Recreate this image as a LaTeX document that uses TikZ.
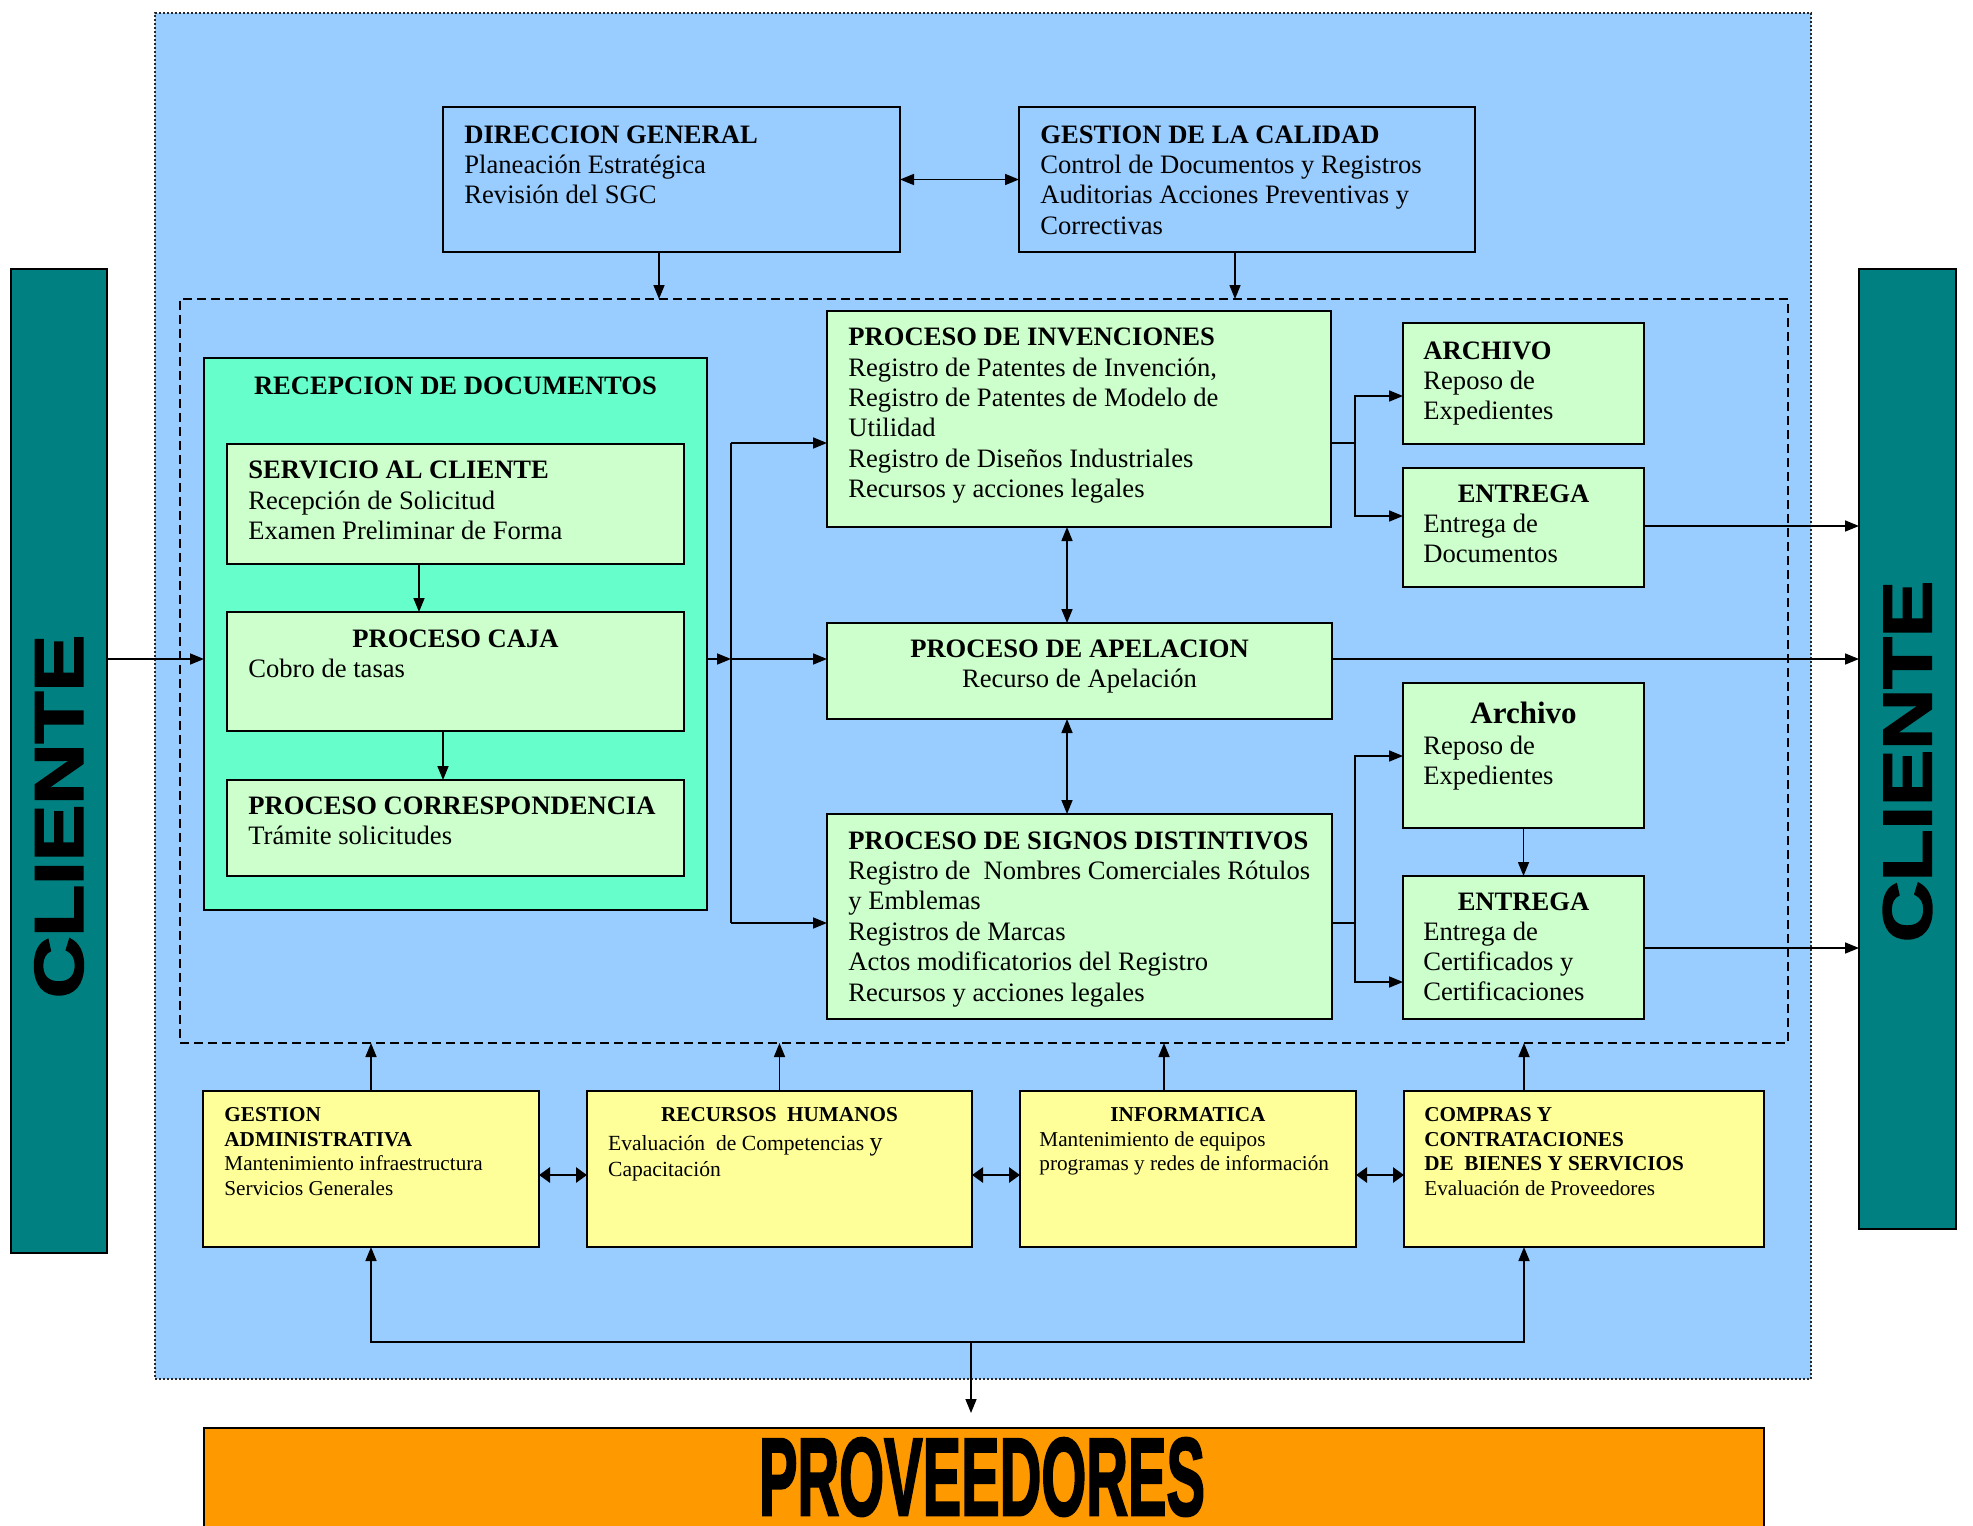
\documentclass[tikz,border=0pt]{standalone}
\usepackage{graphicx}
\usepackage{fontspec}
\setmainfont{Liberation Serif}
\newfontfamily\heavyfont{Liberation Sans}[BoldFeatures={FakeBold=2.5}]
\usetikzlibrary{arrows.meta}
\definecolor{bgblue}{HTML}{99CCFF}
\definecolor{tealc}{HTML}{008080}
\definecolor{aquac}{HTML}{66FFCC}
\definecolor{lgreen}{HTML}{CCFFCC}
\definecolor{lyellow}{HTML}{FFFF99}
\definecolor{orngc}{HTML}{FF9900}
\newcommand{\lft}[1]{\begin{tabular}[t]{@{}l@{}}#1\end{tabular}}
\newcommand{\ctr}[1]{\begin{tabular}[t]{@{}c@{}}#1\end{tabular}}
\begin{document}
\begin{tikzpicture}[x=0.5pt,y=-0.5pt,
  bx/.style={draw=black, line width=1pt, rectangle, inner sep=0pt, outer sep=0pt, anchor=north west},
  tx/.style={inner sep=0pt, anchor=base west, font=\fontsize{13.3}{15.2}\selectfont},
  txc/.style={inner sep=0pt, anchor=base, font=\fontsize{13.3}{15.2}\selectfont},
  sm/.style={inner sep=0pt, anchor=base west, font=\fontsize{10.6}{12.25}\selectfont},
  smc/.style={inner sep=0pt, anchor=base, font=\fontsize{10.6}{12.25}\selectfont},
  arr/.style={line width=0.8pt, -{Triangle[length=7pt,width=5.5pt]}},
  plain/.style={line width=0.8pt},
  darr/.style={line width=0.8pt, {Triangle[length=7pt,width=5.5pt]}-{Triangle[length=7pt,width=5.5pt]}},
  ddarr/.style={line width=1.4pt, {Triangle[length=5.5pt,width=7.5pt]}-{Triangle[length=5.5pt,width=7.5pt]}}
]
\useasboundingbox (0,0) rectangle (1973,1525);

% backgrounds
\node[bx, fill=bgblue, draw=black!85, densely dotted, line width=0.6pt, minimum width=828pt, minimum height=683pt] (outer) at (155,13) {};
\node[bx, fill=tealc, minimum width=48pt, minimum height=492pt] (cl) at (11,269) {};
\node[bx, fill=tealc, minimum width=48.5pt, minimum height=480pt] (cr) at (1859,269) {};
\node[bx, fill=orngc, minimum width=780pt, minimum height=51pt] (prov) at (204,1428) {};
\node[bx, dash pattern=on 4.5pt off 2.5pt, line width=0.7pt, minimum width=804pt, minimum height=372pt] (proc) at (180,299) {};

% top boxes
\node[bx, minimum width=228.5pt, minimum height=72.5pt] (dg) at (443,107) {};
\node[bx, minimum width=228pt, minimum height=72.5pt] (gc) at (1019,107) {};

% reception
\node[bx, fill=aquac, minimum width=251.5pt, minimum height=276pt] (rec) at (204,358) {};
\node[bx, fill=lgreen, minimum width=228.5pt, minimum height=60pt] (sc) at (227,444) {};
\node[bx, fill=lgreen, minimum width=228.5pt, minimum height=59.5pt] (pc) at (227,612) {};
\node[bx, fill=lgreen, minimum width=228.5pt, minimum height=48pt] (pco) at (227,780) {};

% processes
\node[bx, fill=lgreen, minimum width=252pt, minimum height=108pt] (inv) at (827,311) {};
\node[bx, fill=lgreen, minimum width=252.5pt, minimum height=48pt] (apel) at (827,623) {};
\node[bx, fill=lgreen, minimum width=252.5pt, minimum height=102.5pt] (sig) at (827,814) {};
\node[bx, fill=lgreen, minimum width=120.5pt, minimum height=60.5pt] (ar1) at (1403,323) {};
\node[bx, fill=lgreen, minimum width=120.5pt, minimum height=59.5pt] (en1) at (1403,468) {};
\node[bx, fill=lgreen, minimum width=120.5pt, minimum height=72.5pt] (ar2) at (1403,683) {};
\node[bx, fill=lgreen, minimum width=120.5pt, minimum height=71.5pt] (en2) at (1403,876) {};

% support
\node[bx, fill=lyellow, minimum width=168pt, minimum height=78pt] (ga) at (203,1091) {};
\node[bx, fill=lyellow, minimum width=192.5pt, minimum height=78pt] (rh) at (587,1091) {};
\node[bx, fill=lyellow, minimum width=168pt, minimum height=78pt] (inf) at (1020,1091) {};
\node[bx, fill=lyellow, minimum width=180pt, minimum height=78pt] (co) at (1404,1091) {};

% texts
\node[tx] (dgT) at (464,143) {\lft{\textbf{DIRECCION GENERAL}\\Planeación Estratégica\\Revisión del SGC}};
\node[tx] (gcT) at (1040,143) {\lft{\textbf{GESTION DE LA CALIDAD}\\Control de Documentos y Registros\\Auditorias Acciones Preventivas y\\Correctivas}};
\node[txc] (recT) at (455.5,394.6) {\textbf{RECEPCION DE DOCUMENTOS}};
\node[tx] (scT) at (248,478.6) {\lft{\textbf{SERVICIO AL CLIENTE}\\Recepción de Solicitud\\Examen Preliminar de Forma}};
\node[txc] (pcT) at (455.5,647) {\textbf{PROCESO CAJA}};
\node[tx] (pcB) at (248,677.5) {Cobro de tasas};
\node[tx] (pcoT) at (248,814) {\lft{\textbf{PROCESO CORRESPONDENCIA}\\Trámite solicitudes}};
\node[tx] (invT) at (848,345.7) {\lft{\textbf{PROCESO DE INVENCIONES}\\Registro de Patentes de Invención,\\Registro de Patentes de Modelo de\\Utilidad\\Registro de Diseños Industriales\\Recursos y acciones legales}};
\node[txc] (apT) at (1079.5,657) {\ctr{\textbf{PROCESO DE APELACION}\\Recurso de Apelación}};
\node[tx] (sigT) at (848,849) {\lft{\textbf{PROCESO DE SIGNOS DISTINTIVOS}\\Registro de\ \ Nombres Comerciales Rótulos\\y Emblemas\\Registros de Marcas\\Actos modificatorios del Registro\\Recursos y acciones legales}};
\node[tx] (ar1T) at (1423,359) {\lft{\textbf{ARCHIVO}\\Reposo de\\Expedientes}};
\node[txc] (en1T) at (1523.5,502.3) {\textbf{ENTREGA}};
\node[tx] (en1B) at (1423,532) {\lft{Entrega de\\Documentos}};
\node[txc, font=\fontsize{15.5}{18}\selectfont] (ar2T) at (1523.5,723.3) {\textbf{Archivo}};
\node[tx] (ar2B) at (1423,754) {\lft{Reposo de\\Expedientes}};
\node[txc] (en2T) at (1523.5,910) {\textbf{ENTREGA}};
\node[tx] (en2B) at (1423,940) {\lft{Entrega de\\Certificados y\\Certificaciones}};

\node[sm] (gaT) at (224,1121.7) {\lft{\textbf{GESTION}\\\textbf{ADMINISTRATIVA}\\Mantenimiento infraestructura\\Servicios Generales}};
\node[smc] (rhT) at (779.5,1121.7) {\textbf{RECURSOS\ \ HUMANOS}};
\node[sm, font=\fontsize{10.8}{13.35}\selectfont] (rhB) at (607.7,1150) {\lft{Evaluación\ \ de Competencias {\fontsize{13}{13}\selectfont y}\\Capacitación}};
\node[smc] (infT) at (1188,1121.7) {\textbf{INFORMATICA}};
\node[sm] (infB) at (1039,1146) {\lft{Mantenimiento de equipos\\programas y redes de información}};
\node[sm] (coT) at (1424,1121.7) {\lft{\textbf{COMPRAS Y}\\\textbf{CONTRATACIONES}\\\textbf{DE\ \ BIENES Y SERVICIOS}\\Evaluación de Proveedores}};

\node[rotate=90, inner sep=0pt] (clT) at (59,816.5) {\resizebox{181.5pt}{24pt}{\heavyfont\bfseries CLIENTE}};
\node[rotate=90, inner sep=0pt] (crT) at (1907.5,761.5) {\resizebox{180.5pt}{24pt}{\heavyfont\bfseries CLIENTE}};
\node[anchor=base, inner sep=0pt] (provT) at (982,1515) {\resizebox{223pt}{38.5pt}{\heavyfont\bfseries PROVEEDORES}};

% connectors
\draw[darr] (dg.east) -- (gc.west);
\draw[arr] (dg.south -| 659,0) -- (proc.north -| 659,0);
\draw[arr] (gc.south -| 1235,0) -- (proc.north -| 1235,0);
\draw[arr] (cl.east |- 0,659) -- (rec.west |- 0,659);
\draw[arr] (sc.south -| 419,0) -- (pc.north -| 419,0);
\draw[arr] (pc.south -| 443,0) -- (pco.north -| 443,0);
\coordinate (bus) at (731,659);
\draw[arr] (rec.east |- bus) -- (bus);
\draw[plain] (bus |- 0,443) -- (bus |- 0,923);
\draw[arr] (bus |- 0,443) -- (inv.west |- 0,443);
\draw[arr] (bus) -- (apel.west |- bus);
\draw[arr] (bus |- 0,923) -- (sig.west |- 0,923);
\draw[darr] (inv.south -| 1067,0) -- (apel.north -| 1067,0);
\draw[darr] (apel.south -| 1067,0) -- (sig.north -| 1067,0);
\coordinate (b1) at (1355,443);
\draw[arr] (inv.east |- b1) -- (b1) |- (ar1.west |- 0,396);
\draw[arr] (b1) |- (en1.west |- 0,516);
\draw[arr] (en1.east |- 0,526) -- (cr.west |- 0,526);
\draw[arr] (apel.east |- 0,659) -- (cr.west |- 0,659);
\coordinate (b2) at (1355,923);
\draw[arr] (sig.east |- b2) -- (b2) |- (ar2.west |- 0,756);
\draw[arr] (b2) |- (en2.west |- 0,982);
\draw[arr] (ar2.south) -- (en2.north);
\draw[arr] (en2.east |- 0,948) -- (cr.west |- 0,948);

\draw[arr] (ga.north) -- (ga.north |- proc.south);
\draw[arr] (rh.north) -- (rh.north |- proc.south);
\draw[arr] (inf.north -| 1164,0) -- (proc.south -| 1164,0);
\draw[arr] (co.north -| 1524,0) -- (proc.south -| 1524,0);
\draw[ddarr] (ga.east |- 0,1175) -- (rh.west |- 0,1175);
\draw[ddarr] (rh.east |- 0,1175) -- (inf.west |- 0,1175);
\draw[ddarr] (inf.east |- 0,1175) -- (co.west |- 0,1175);
\coordinate (hub) at (971,1342);
\draw[arr] (hub) -| (ga.south);
\draw[arr] (hub) -| (co.south -| 1524,0);
\draw[arr, shorten >=7.5pt] (hub) -- (hub |- prov.north);
\end{tikzpicture}
\end{document}
